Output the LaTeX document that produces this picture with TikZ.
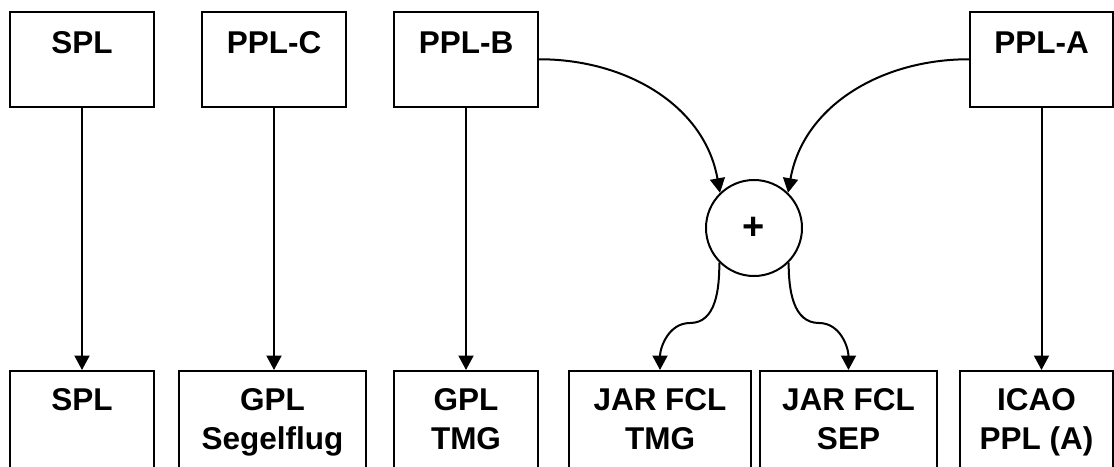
\documentclass[tikz,border=0pt]{standalone}
\usepackage{fontspec}
\setmainfont{Liberation Sans}
\usetikzlibrary{positioning,arrows.meta}

\begin{document}
\begin{tikzpicture}[x=1pt, y=1pt,
	box/.style={draw, line width=2pt, inner sep=0pt},
	topbox/.style={box, minimum height=95.5pt},
	botbox/.style={box, minimum height=120pt},
	txt/.style={font=\fontsize{31.5}{39}\selectfont\bfseries, align=center, inner sep=0pt},
	arr/.style={line width=2pt, -{Triangle[length=14.5pt, width=15pt]}}]
			%%%%% START %%%%%
			\useasboundingbox (0, 0) rectangle (1114, -466);
			
			\node[topbox, minimum width=144.5pt] (splT) at (82, -59.25) {};
			\node[topbox, minimum width=144pt] (pplC) at (274, -59.25) {};
			\node[topbox, minimum width=144pt] (pplB) at (466, -59.25) {};
			\node[topbox, minimum width=143pt] (pplA) at (1041.5, -59.25) {};
			
			\node[txt, below=21pt of splT.north] (splTt) {SPL};
			\node[txt, below=21pt of pplC.north] (pplCt) {PPL-C};
			\node[txt, below=21pt of pplB.north] (pplBt) {PPL-B};
			\node[txt, below=21pt of pplA.north] (pplAt) {PPL-A};
			
			\node[botbox, minimum width=144.5pt] (splB) at (82, -431) {};
			\node[botbox, minimum width=187pt] (gplS) at (272.5, -431) {};
			\node[botbox, minimum width=144pt] (gplT) at (466, -431) {};
			\node[botbox, minimum width=182pt] (jarT) at (660, -431) {};
			\node[botbox, minimum width=177pt] (jarS) at (848.5, -431) {};
			\node[botbox, minimum width=153pt] (icao) at (1036.5, -431) {};
			
			\node[txt, below=18pt of splB.north] (splBt) {SPL};
			\node[txt, below=18pt of gplS.north] (gplSt) {GPL\\Segelflug};
			\node[txt, below=18pt of gplT.north] (gplTt) {GPL\\TMG};
			\node[txt, below=18pt of jarT.north] (jarTt) {JAR FCL\\TMG};
			\node[txt, below=18pt of jarS.north] (jarSt) {JAR FCL\\SEP};
			\node[txt, below=18pt of icao.north] (icaot) {ICAO\\PPL (A)};
			
			\node[box, circle, minimum size=96pt, txt, font=\fontsize{38}{40}\selectfont\bfseries] (plus) at (754, -228) {+};
			
			\draw[arr] (splT) -- (splB);
			\draw[arr] (pplC) -- (pplC |- gplS.north);
			\draw[arr] (pplB) -- (gplT);
			\draw[arr] (pplA) -- (pplA |- icao.north);
			
			\draw[arr] (pplB.east) to[out=0, in=100] (plus.134);
			\draw[arr] (pplA.west) to[out=180, in=80] (plus.46);
			
			\coordinate (bendL) at (690, -323);
			\coordinate (bendR) at (819, -323);
			\draw[arr] (plus.225) to[out=-90, in=0] (bendL) to[out=180, in=90] (jarT.north);
			\draw[arr] (plus.315) to[out=-90, in=180] (bendR) to[out=0, in=90] (jarS.north);
			
			%%%%% END %%%%%
\end{tikzpicture}
\end{document}
